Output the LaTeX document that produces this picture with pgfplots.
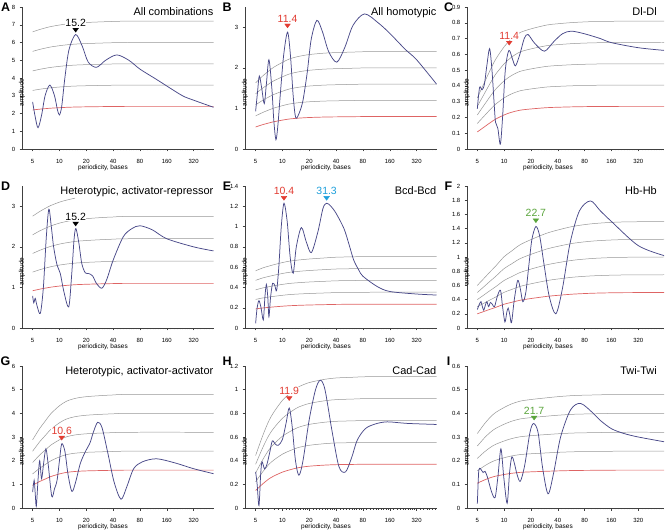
\documentclass[border=0pt]{standalone}
\usepackage{pgfplots}
\pgfplotsset{compat=1.18}
\usepackage{pgfplotstable}
\usepackage{fontspec}
\setmainfont{Liberation Sans}

\definecolor{curve}{RGB}{72,72,136}
\definecolor{thrgray}{RGB}{150,150,150}
\definecolor{thrred}{RGB}{222,100,100}
\definecolor{lblred}{RGB}{226,60,50}
\definecolor{lblcyan}{RGB}{30,160,220}
\definecolor{lblgreen}{RGB}{90,165,60}

\pgfplotsset{
  every axis/.append style={
    scale only axis, height=142bp,
    xmode=log,
    axis lines*=left,
    axis line style={black!75, line width=0.5pt},
    tick style={black!75, line width=0.4pt},
    tick align=outside,
    major tick length=2.5bp, minor tick length=1.5bp,
    xtick={5,10,20,40,80,160,320},
    xticklabels={5,10,20,40,80,160,320},
    minor xtick={6,7,8,9,11,12,13,14,15,16,17,18,19,22,24,26,28,30,32,34,36,38,44,48,52,56,60,64,68,72,76,88,96,104,112,120,128,136,144,152,176,192,208,224,240,256,272,288,304,352,384,416,448,480,512,544,576,608},
    ymin=0,
    tick label style={font=\fontsize{6}{7}\selectfont, inner sep=0pt},
    xticklabel style={anchor=center, yshift=-9.5bp},
    yticklabel style={anchor=east, xshift=-4bp},
    /pgf/number format/assume math mode=true,
    /pgf/number format/fixed,
    xlabel={periodicity, bases}, ylabel={amplitude},
    every axis label/.append style={font=\fontsize{6.5}{7.5}\selectfont, inner sep=0pt},
    every axis x label/.style={at={(axis description cs:0,0)}, anchor=center, xshift=81bp, yshift=-18.5bp},
    every axis y label/.style={at={(axis description cs:0,0.5)}, anchor=center, rotate=90, xshift=-14.5bp},
    every axis title/.style={at={(1,1)}, anchor=base east, yshift=-8.5bp, inner sep=0pt, font=\fontsize{11}{13}\selectfont},
  },
}
\tikzset{
  mythr/.style={thrgray, line width=0.5pt, smooth},
  myredthr/.style={thrred, line width=0.7pt, smooth},
  mycurve/.style={curve, line width=0.75pt, smooth},
  peaklbl/.style={anchor=south, inner sep=0.4bp, fill=white, font=\fontsize{10.5}{12}\selectfont},
}

\newcommand\thresholds[1]{%
  \addplot[mythr] table[x=x,y=g4]{#1};
  \addplot[mythr] table[x=x,y=g3]{#1};
  \addplot[mythr] table[x=x,y=g2]{#1};
  \addplot[mythr] table[x=x,y=g1]{#1};
  \addplot[myredthr] table[x=x,y=r]{#1};
}
% peak marker (triangle) at x=#1, y=#2, label #3, colour #4
\newcommand\peak[4]{%
  \addplot[only marks, color=#4, mark=triangle*, mark size=2.6bp,
    mark options={rotate=180, xscale=1.25}] coordinates {(#1,#2)};
  \node[peaklbl, text=#4] at (axis cs:#1,#2) [yshift=2.5bp] {#3};
}

% threshold curves: red = base level, grey = 1.5, 2, 2.5, 3 times it
\pgfplotstableread{
x r g1 g2 g3 g4
5 2.2 3.3 4.4 5.5 6.6
6 2.244 3.366 4.488 5.61 6.732
7 2.275 3.413 4.55 5.688 6.826
8 2.299 3.449 4.598 5.748 6.898
10 2.328 3.492 4.656 5.82 6.984
12 2.347 3.521 4.694 5.868 7.042
15 2.364 3.546 4.728 5.91 7.092
20 2.376 3.564 4.752 5.94 7.128
30 2.388 3.582 4.776 5.97 7.164
40 2.395 3.593 4.79 5.988 7.186
60 2.4 3.6 4.8 6 7.2
535 2.4 3.6 4.8 6 7.2
}\thrA
\pgfplotstableread{
x r g1 g2 g3 g4
5 0.544 0.816 1.088 1.36 1.632
6 0.6 0.9 1.2 1.5 1.8
7 0.64 0.96 1.28 1.6 1.92
8 0.672 1.008 1.344 1.68 2.016
10 0.712 1.068 1.424 1.78 2.136
12 0.74 1.11 1.48 1.85 2.22
15 0.76 1.14 1.52 1.9 2.28
20 0.776 1.164 1.552 1.94 2.328
30 0.788 1.182 1.576 1.97 2.364
40 0.792 1.188 1.584 1.98 2.376
60 0.796 1.194 1.592 1.99 2.388
100 0.8 1.2 1.6 2 2.4
535 0.8 1.2 1.6 2 2.4
}\thrB
\pgfplotstableread{
x r g1 g2 g3 g4
5 0.108 0.162 0.216 0.27 0.324
6 0.1404 0.2106 0.2808 0.351 0.4212
7 0.1674 0.2511 0.3348 0.4185 0.5022
8 0.189 0.2835 0.378 0.4725 0.567
10 0.216 0.324 0.432 0.54 0.648
12 0.2322 0.3483 0.4644 0.5805 0.6966
15 0.2457 0.3686 0.4914 0.6143 0.7371
20 0.2538 0.3807 0.5076 0.6345 0.7614
30 0.2619 0.3929 0.5238 0.6548 0.7857
40 0.2646 0.3969 0.5292 0.6615 0.7938
60 0.2673 0.401 0.5346 0.6683 0.8019
100 0.2692 0.4038 0.5384 0.673 0.8076
200 0.27 0.405 0.54 0.675 0.81
622 0.27 0.405 0.54 0.675 0.81
}\thrC
\pgfplotstableread{
x r g1 g2 g3 g4
5 0.9185 1.378 1.837 2.296 2.756
6 0.957 1.436 1.914 2.393 2.871
7 0.9845 1.477 1.969 2.461 2.954
8 1.0065 1.51 2.013 2.516 3.02
10 1.034 1.551 2.068 2.585 3.102
12 1.0505 1.576 2.101 2.626 3.152
15 1.067 1.6 2.134 2.668 3.201
20 1.078 1.617 2.156 2.695 nan
30 1.089 1.634 2.178 2.723 nan
40 1.0945 1.642 2.189 2.736 nan
60 1.1 1.65 2.2 2.75 nan
535 1.1 1.65 2.2 2.75 nan
}\thrD
\pgfplotstableread{
x r g1 g2 g3 g4
5 0.188 0.282 0.376 0.47 0.564
6 0.1974 0.2961 0.3948 0.4935 0.5922
7 0.2033 0.3049 0.4066 0.5082 0.6098
8 0.208 0.312 0.416 0.52 0.6239
10 0.215 0.3225 0.43 0.5376 0.6451
12 0.2197 0.3296 0.4395 0.5493 0.6592
15 0.2233 0.3349 0.4465 0.5581 0.6698
20 0.2268 0.3402 0.4536 0.5669 0.6803
30 0.2303 0.3455 0.4606 0.5758 0.6909
40 0.2327 0.349 0.4653 0.5816 0.698
60 0.2338 0.3507 0.4677 0.5846 0.7015
100 0.235 0.3525 0.47 0.5875 0.705
535 0.235 0.3525 0.47 0.5875 0.705
}\thrE
\pgfplotstableread{
x r g1 g2 g3 g4
5 0.2 0.3 0.4 0.5 0.6
6 0.235 0.3525 0.47 0.5875 0.705
7 0.265 0.3975 0.53 0.6625 0.795
8 0.29 0.435 0.58 0.725 0.87
10 0.335 0.5025 0.67 0.8375 1.005
12 0.36 0.54 0.72 0.9 1.08
15 0.39 0.585 0.78 0.975 1.17
20 0.415 0.6225 0.83 1.0375 1.245
30 0.445 0.6675 0.89 1.1125 1.335
40 0.46 0.69 0.92 1.15 1.38
60 0.4775 0.7163 0.955 1.1938 1.4325
100 0.49 0.735 0.98 1.225 1.47
200 0.4975 0.7463 0.995 1.2438 1.4925
622 0.5 0.75 1 1.25 1.5
}\thrF
\pgfplotstableread{
x r g1 g2 g3 g4
5 0.96 1.44 1.92 2.4 2.88
6 1.12 1.68 2.24 2.8 3.36
7 1.232 1.848 2.464 3.08 3.696
8 1.328 1.992 2.656 3.32 3.984
10 1.44 2.16 2.88 3.6 4.32
12 1.504 2.256 3.008 3.76 4.512
15 1.544 2.316 3.088 3.86 4.632
20 1.568 2.352 3.136 3.92 4.704
30 1.584 2.376 3.168 3.96 4.752
40 1.592 2.388 3.184 3.98 4.776
60 1.6 2.4 3.2 4 4.8
535 1.6 2.4 3.2 4 4.8
}\thrG
\pgfplotstableread{
x r g1 g2 g3 g4
5 0.148 0.222 0.296 0.37 0.444
6 0.2035 0.3053 0.407 0.5088 0.6105
7 0.2442 0.3663 0.4884 0.6105 0.7326
8 0.2701 0.4052 0.5402 0.6753 0.8103
10 0.3034 0.4551 0.6068 0.7585 0.9102
12 0.3219 0.4829 0.6438 0.8048 0.9657
15 0.3404 0.5106 0.6808 0.851 1.0212
20 0.3534 0.53 0.7067 0.8834 1.0601
30 0.3626 0.5439 0.7252 0.9065 1.0878
40 0.3663 0.5495 0.7326 0.9158 1.0989
60 0.3682 0.5522 0.7363 0.9204 1.1045
100 0.37 0.555 0.74 0.925 1.11
535 0.37 0.555 0.74 0.925 1.11
}\thrH
\pgfplotstableread{
x r g1 g2 g3 g4
5 0.1048 0.1572 0.2096 0.262 0.3144
6 0.1184 0.1776 0.2368 0.296 0.3552
7 0.128 0.192 0.256 0.32 0.384
8 0.1344 0.2016 0.2688 0.336 0.4032
10 0.1416 0.2124 0.2832 0.354 0.4248
12 0.1464 0.2196 0.2928 0.366 0.4392
15 0.1504 0.2256 0.3008 0.376 0.4512
20 0.1528 0.2292 0.3056 0.382 0.4584
30 0.1552 0.2328 0.3104 0.388 0.4656
40 0.1568 0.2352 0.3136 0.392 0.4704
60 0.1584 0.2376 0.3168 0.396 0.4752
100 0.1592 0.2388 0.3184 0.398 0.4776
200 0.16 0.24 0.32 0.4 0.48
622 0.16 0.24 0.32 0.4 0.48
}\thrI

\begin{document}
\begin{tikzpicture}
\path[use as bounding box] (0,0) rectangle (672bp,531bp);

\tikzset{letter/.style={font=\fontsize{12.5}{14}\selectfont\bfseries, anchor=center}}
\node[letter] at (5.5bp,523.5bp) {A};
\node[letter] at (227bp,523.5bp) {B};
\node[letter] at (448.5bp,523.5bp) {C};
\node[letter] at (5.5bp,345bp) {D};
\node[letter] at (227bp,345bp) {E};
\node[letter] at (448.5bp,345bp) {F};
\node[letter] at (5.5bp,170bp) {G};
\node[letter] at (227bp,170bp) {H};
\node[letter] at (448.5bp,170bp) {I};

% A
\begin{axis}[xmin=3.8, xmax=535, width=191.5bp, at={(22bp,382bp)}, anchor=south west,
  ymax=8, ytick={0,1,...,8}, title={All combinations}]
\thresholds{\thrA}
\addplot[mycurve] coordinates {(5,2.65) (5.35,1.8) (5.75,1.2) (6.3,1.9) (6.9,3.0) (7.8,3.6) (8.8,3.0) (9.5,2.2) (10,1.92) (10.6,2.4) (11.5,4.0) (12.8,5.6) (15.2,6.45) (18,5.8) (21,4.9) (26,4.6) (33,5.0) (44,5.3) (60,5.0) (80,4.5) (120,3.95) (160,3.55) (240,3.0) (320,2.75) (535,2.35)};
\peak{15.2}{6.73}{15.2}{black}
\end{axis}

% B
\begin{axis}[xmin=3.8, xmax=535, width=191.5bp, at={(245bp,382bp)}, anchor=south west,
  ymax=3.5, ytick={0,1,2,3}, title={All homotypic}]
\thresholds{\thrB}
\addplot[mycurve] coordinates {(5,0.93) (5.25,1.4) (5.5,1.8) (5.85,1.5) (6.25,1.12) (6.6,1.6) (7.05,2.2) (7.6,1.5) (8.0,0.7) (8.45,0.23) (8.9,0.6) (9.5,1.4) (10.3,2.3) (11.4,2.88) (12.3,2.3) (13.2,1.3) (14.1,0.77) (15.5,0.9) (17,1.2) (19,1.9) (21,2.7) (24.3,3.17) (28,2.9) (33,2.4) (40.7,2.14) (50,2.5) (62,3.05) (83.5,3.33) (120,3.1) (160,2.85) (240,2.45) (320,2.2) (535,1.6)};
\peak{11.4}{3.05}{11.4}{lblred}
\end{axis}

% C
\begin{axis}[xmin=3.83, xmax=622, width=197bp, at={(467bp,382bp)}, anchor=south west,
  ymax=0.9, ytick={0,0.1,...,0.9}, title={Dl-Dl}, title style={xshift=-7bp}]
\thresholds{\thrC}
\addplot[mycurve] coordinates {(5,0.255) (5.3,0.39) (5.65,0.375) (6.0,0.41) (6.4,0.53) (6.87,0.636) (7.3,0.5) (7.7,0.3) (8.0,0.17) (8.5,0.13) (9.06,0.03) (9.6,0.2) (10.3,0.5) (11.3,0.625) (12.4,0.57) (13.4,0.527) (15,0.6) (16.8,0.7) (18.5,0.726) (22,0.67) (28.3,0.62) (36,0.68) (45,0.73) (56.6,0.747) (80,0.73) (120,0.7) (160,0.674) (320,0.642) (622,0.625)};
\peak{11.4}{0.675}{11.4}{lblred}
\end{axis}

% D
\begin{axis}[xmin=3.8, xmax=535, width=191.5bp, at={(22bp,203bp)}, anchor=south west,
  ymax=3.5, ytick={0,1,2,3}, title={Heterotypic, activator-repressor}]
\thresholds{\thrD}
\addplot[mycurve] coordinates {(5,0.79) (5.15,0.62) (5.35,0.73) (5.6,0.55) (6.1,0.36) (6.6,1.0) (7.1,2.2) (7.6,2.93) (8.1,2.5) (8.6,2.0) (9.4,1.55) (10.2,1.35) (11.2,0.9) (12.7,0.52) (13.7,1.3) (14.6,2.2) (15.3,2.45) (16.5,2.1) (17.8,1.59) (19.5,1.36) (21.5,1.34) (23.6,1.28) (26,1.1) (29.9,0.98) (34,1.2) (40,1.67) (52,2.25) (65,2.45) (80,2.52) (110,2.42) (160,2.2) (320,2.0) (535,1.9)};
\peak{15.2}{2.58}{15.2}{black}
\end{axis}

% E
\begin{axis}[xmin=3.8, xmax=535, width=191.5bp, at={(245bp,203bp)}, anchor=south west,
  ymax=1.4, ytick={0,0.2,...,1.4}, title={Bcd-Bcd}]
\thresholds{\thrE}
\addplot[mycurve] coordinates {(5,0.046) (5.2,0.2) (5.45,0.27) (5.75,0.2) (6.1,0.08) (6.35,0.3) (6.6,0.43) (6.85,0.3) (7.05,0.11) (7.35,0.3) (7.75,0.44) (8.2,0.42) (8.6,0.37) (9.1,0.6) (9.7,1.0) (10.4,1.23) (11.3,1.05) (12.2,0.7) (13.2,0.54) (14.3,0.8) (16.3,0.99) (18.5,0.85) (21.1,0.743) (25,0.95) (28.5,1.18) (31.3,1.23) (35,1.2) (40,1.13) (49,0.98) (56,0.82) (63,0.67) (72,0.57) (80,0.51) (115,0.41) (160,0.36) (320,0.335) (535,0.325)};
\peak{10.4}{1.285}{10.4}{lblred}
\peak{31.3}{1.285}{31.3}{lblcyan}
\end{axis}

% F
\begin{axis}[xmin=3.83, xmax=622, width=197bp, at={(467bp,203bp)}, anchor=south west,
  ymax=2, ytick={0,0.2,...,2}, title={Hb-Hb}, title style={xshift=-7bp}]
\thresholds{\thrF}
\addplot[mycurve] coordinates {(5,0.26) (5.25,0.33) (5.5,0.37) (5.7,0.3) (5.9,0.25) (6.15,0.32) (6.4,0.37) (6.7,0.3) (7.0,0.36) (7.4,0.33) (7.8,0.3) (8.4,0.45) (9.1,0.53) (9.6,0.3) (10.2,0.085) (10.7,0.22) (11.1,0.28) (11.6,0.18) (12.1,0.075) (13,0.4) (14.2,0.67) (15.2,0.55) (16.2,0.37) (17.5,0.5) (19,0.9) (20.5,1.25) (22.7,1.43) (25,1.3) (28,0.9) (32,0.45) (38,0.2) (45,0.55) (55,1.2) (70,1.65) (93,1.79) (120,1.65) (160,1.5) (320,1.16) (622,1.02)};
\peak{22.7}{1.52}{22.7}{lblgreen}
\end{axis}

% G
\begin{axis}[xmin=3.8, xmax=535, width=191.5bp, at={(22bp,23bp)}, anchor=south west,
  ymax=6, ytick={0,1,...,6}, title={Heterotypic, activator-activator}]
\thresholds{\thrG}
\addplot[mycurve] coordinates {(5,0.67) (5.2,1.17) (5.35,0.6) (5.5,0.07) (5.75,1.2) (6.0,2.0) (6.3,1.24) (6.65,1.9) (7.05,2.5) (7.5,1.8) (8.2,0.49) (8.8,0.81) (9.4,1.17) (10.0,2.0) (10.6,2.71) (11.5,2.4) (12.5,1.4) (13.8,0.7) (15.2,1.1) (17.1,1.87) (19.4,2.36) (22,2.75) (24,3.2) (26.8,3.62) (30,3.4) (35,2.3) (41,1.1) (49,0.37) (57,0.9) (68,1.66) (85,1.95) (123,2.08) (200,1.9) (320,1.66) (535,1.45)};
\peak{10.6}{2.98}{10.6}{lblred}
\end{axis}

% H
\begin{axis}[xmin=3.8, xmax=535, width=191.5bp, at={(245bp,23bp)}, anchor=south west,
  ymax=1.2, ytick={0,0.2,...,1.2}, title={Cad-Cad}]
\thresholds{\thrH}
\addplot[mycurve] coordinates {(5,0.305) (5.2,0.2) (5.45,0.02) (5.7,0.29) (5.9,0.39) (6.3,0.33) (6.7,0.37) (7.2,0.47) (7.7,0.567) (8.3,0.54) (9.0,0.53) (10,0.58) (11,0.72) (11.9,0.845) (12.8,0.7) (14,0.4) (15.3,0.277) (17,0.4) (20,0.75) (23.5,1.0) (26.6,1.08) (30,1.0) (36,0.65) (43,0.35) (51,0.305) (60,0.43) (69,0.573) (85,0.67) (110,0.71) (150,0.728) (250,0.715) (535,0.706)};
\peak{11.9}{0.93}{11.9}{lblred}
\end{axis}

% I
\begin{axis}[xmin=3.83, xmax=622, width=197bp, at={(467bp,23bp)}, anchor=south west,
  ymax=0.6, ytick={0,0.1,...,0.6}, title={Twi-Twi}, title style={xshift=-7bp}]
\thresholds{\thrI}
\addplot[mycurve] coordinates {(5,0.018) (5.1,0.1) (5.2,0.16) (5.4,0.167) (5.8,0.15) (6.1,0.155) (6.5,0.13) (7.2,0.07) (7.9,0.044) (8.5,0.13) (9.2,0.25) (9.9,0.13) (10.8,0.02) (11.5,0.15) (12.2,0.216) (13.0,0.19) (14,0.14) (15.2,0.113) (17,0.18) (19.5,0.32) (21.4,0.357) (24,0.32) (27,0.17) (31.1,0.06) (36,0.15) (43,0.3) (55.5,0.414) (72,0.442) (100,0.4) (120,0.37) (160,0.335) (220,0.315) (320,0.3) (622,0.28)};
\peak{21.7}{0.383}{21.7}{lblgreen}
\end{axis}
\end{tikzpicture}
\end{document}
